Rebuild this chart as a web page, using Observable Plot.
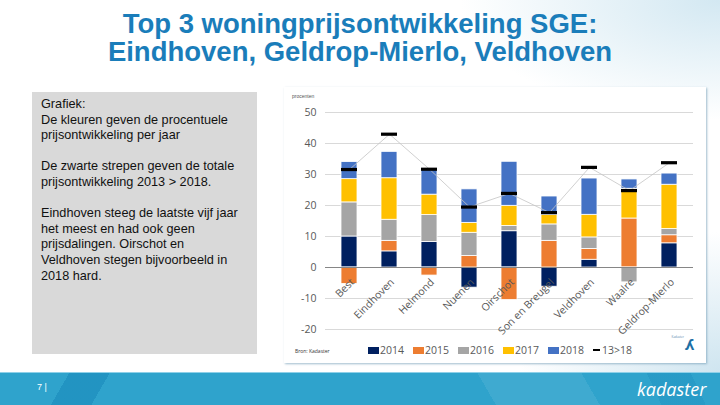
<!DOCTYPE html>
<html>
<head>
<meta charset="utf-8">
<script src="https://cdn.jsdelivr.net/npm/d3@7"></script>
<script src="https://cdn.jsdelivr.net/npm/@observablehq/plot@0.6"></script>
<style>
  html, body { margin: 0; padding: 0; }
  body {
    width: 720px; height: 405px; position: relative; overflow: hidden;
    font-family: "Liberation Sans", Arial, sans-serif;
    background:
      radial-gradient(ellipse 260px 120px at 720px 0px, #d3e8f2 0%, rgba(255,255,255,0) 100%),
      radial-gradient(ellipse 200px 140px at 720px 372px, #cfe5f0 0%, rgba(255,255,255,0) 100%),
      #ffffff;
  }
  #title {
    position: absolute; left: 0; top: 10px; width: 720px; text-align: center;
    font-weight: bold; font-size: 27.5px; line-height: 28px; color: #1a7dba;
  }
  #note {
    position: absolute; left: 32px; top: 92px; width: 225px; height: 262px;
    background: #d9d9d9; box-sizing: border-box; padding: 5px 0 0 9px;
    font-size: 12.7px; line-height: 15.6px; color: #111;
  }
  #chartbox {
    position: absolute; left: 284px; top: 87px; width: 422px; height: 276px;
    background: #fff; box-shadow: 1px 1px 2px rgba(120,160,185,0.7);
  }
  #chart { position: absolute; left: 0; top: 0; }
  #unit { position: absolute; left: 8px; top: 6px; font-size: 5px; color: #555; }
  #legend {
    position: absolute; left: 0; top: 251px; width: 422px; height: 25px;
    font-family: "Open Sans", "Liberation Sans", sans-serif;
  }
  #source { position: absolute; left: 11px; top: 10px; font-size: 5px; color: #333; }
  #items { position: absolute; left: 84px; top: 5px; display: flex; align-items: center;
    font-size: 10.5px; color: #595959; }
  .sw { display: inline-block; width: 11px; height: 7px; margin-right: 1px; }
  .it { display: flex; align-items: center; margin-right: 9px; }
  #logo { position: absolute; right: 12px; top: -4px; font-size: 15px; font-weight: bold;
    color: #1d6fa5; transform: scaleX(-1); }
  #logotext { position: absolute; right: 22px; top: -3px; font-size: 3px; color: #5a8bb0; }
  #footer {
    position: absolute; left: 0; top: 372px; width: 720px; height: 33px;
    border-top: 1px solid #8fd0e8;
    background:
      linear-gradient(120deg, rgba(0,0,0,0) 0px, rgba(0,0,0,0) 60px, rgba(10,120,175,0.35) 60px, rgba(10,120,175,0.35) 95px, rgba(0,0,0,0) 95px),
      linear-gradient(60deg, rgba(0,0,0,0) 0px, rgba(0,0,0,0) 430px, rgba(255,255,255,0.08) 430px, rgba(255,255,255,0.08) 520px, rgba(0,0,0,0) 520px),
      linear-gradient(65deg, rgba(0,0,0,0) 0px, rgba(0,0,0,0) 600px, rgba(10,120,175,0.18) 600px, rgba(10,120,175,0.18) 640px, rgba(0,0,0,0) 640px),
      #2fa3cc;
  }
  #page { position: absolute; left: 37px; top: 9px; font-size: 9px; color: #fff; }
  #brand { position: absolute; left: 637px; top: 4px; font-size: 18px; font-style: italic;
    color: #fff; font-family: "Open Sans", "Liberation Sans", sans-serif; }
</style>
</head>
<body>
<div id="title">Top 3 woningprijsontwikkeling SGE:<br>Eindhoven, Geldrop-Mierlo, Veldhoven</div>
<div id="note">Grafiek:<br>De kleuren geven de procentuele<br>prijsontwikkeling per jaar<br><br>De zwarte strepen geven de totale<br>prijsontwikkeling 2013 &gt; 2018.<br><br>Eindhoven steeg de laatste vijf jaar<br>het meest en had ook geen<br>prijsdalingen. Oirschot en<br>Veldhoven stegen bijvoorbeeld in<br>2018 hard.</div>
<div id="chartbox">
  <div id="chart"></div>
  <div id="unit">procenten</div>
  <div id="legend">
    <div id="source">Bron: Kadaster</div>
    <div id="items"></div>
    <div id="logotext">Kadaster</div>
    <div id="logo">λ</div>
  </div>
</div>
<div id="footer"><div id="page">7 |</div><div id="brand">kadaster</div></div>
<script>
const cities = ["Best", "Eindhoven", "Helmond", "Nuenen", "Oirschot", "Son en Breugel", "Veldhoven", "Waalre", "Geldrop-Mierlo"];
const years = ["2014", "2015", "2016", "2017", "2018"];
const yearColors = ["#002060", "#ed7d31", "#a5a5a5", "#ffc000", "#4472c4"];
const v2014 = [10.0, 5.2, 8.2, -6.5, 11.7, -6.2, 2.5, 0, 7.8];
const v2015 = [-5.3, 3.4, -2.6, 3.7, -10.5, 8.6, 3.5, 15.8, 2.6];
const v2016 = [11.0, 6.8, 8.7, 7.5, 1.7, 5.3, 3.7, -4.8, 2.0];
const v2017 = [7.5, 13.4, 6.6, 3.2, 6.5, 3.0, 7.3, 9.6, 14.3];
const v2018 = [5.5, 8.5, 8.0, 10.8, 14.2, 6.0, 11.7, 3.0, 3.6];
const total13to18 = [31.6, 43.0, 31.7, 19.5, 23.9, 17.7, 32.3, 24.8, 33.8];
const totalLabel = "13>18";
const yTicks = [-20, -10, 0, 10, 20, 30, 40, 50];

const seriesValues = [v2014, v2015, v2016, v2017, v2018];
const rows = cities.flatMap((c, i) => years.map((yr, j) => ({city: c, year: yr, value: seriesValues[j][i]})));
const totals = cities.map((c, i) => ({city: c, value: total13to18[i]}));

const chart = Plot.plot({
  width: 422, height: 251,
  marginLeft: 41, marginRight: 13, marginTop: 25, marginBottom: 9,
  style: {fontFamily: "'Open Sans', 'Liberation Sans', sans-serif", background: "transparent"},
  x: {domain: cities, paddingInner: 0.6, paddingOuter: 0.3, axis: null},
  y: {domain: [-20, 50], axis: null},
  color: {domain: years, range: yearColors},
  marks: [
    Plot.gridY(yTicks, {stroke: "#d9d9d9", strokeOpacity: 1, strokeWidth: 1}),
    Plot.axisY(yTicks, {tickSize: 0, tickPadding: 9, fontSize: 10.5, color: "#595959", label: null,
      tickFormat: d => String(d)}),
    Plot.barY(rows, {x: "city", y: "value", fill: "year", stroke: "white", strokeWidth: 0.8}),
    Plot.ruleY([0], {stroke: "#868686", strokeWidth: 1}),
    Plot.line(totals, {x: "city", y: "value", stroke: "#c4c4c4", strokeWidth: 0.8}),
    Plot.tickY(totals, {x: "city", y: "value", stroke: "black", strokeWidth: 3.2}),
    Plot.text(cities, {x: d => d, y: 0, text: d => d, rotate: -45, textAnchor: "end",
      dx: 3, dy: 13, fontSize: 10.5, fill: "#595959"})
  ]
});
document.getElementById("chart").appendChild(chart);

const items = document.getElementById("items");
years.forEach((yr, j) => {
  const it = document.createElement("div");
  it.className = "it";
  it.innerHTML = `<span class="sw" style="background:${yearColors[j]}"></span><span>${yr}</span>`;
  items.appendChild(it);
});
const tl = document.createElement("div");
tl.className = "it";
tl.innerHTML = `<span style="display:inline-block;width:7px;height:1.5px;background:#000;margin-right:2px"></span><span>${totalLabel.replace(">", "&gt;")}</span>`;
items.appendChild(tl);
</script>
</body>
</html>
